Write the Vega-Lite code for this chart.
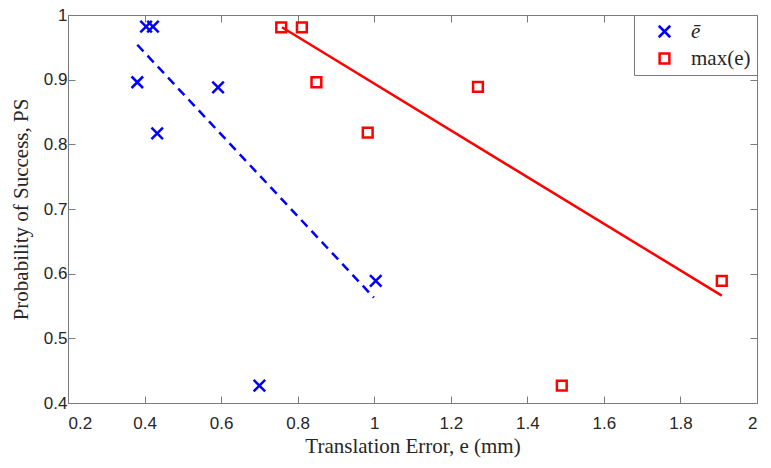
{
  "$schema": "https://vega.github.io/schema/vega-lite/v6.json",
  "width": 689,
  "height": 388,
  "autosize": "none",
  "padding": {"left": 68, "top": 15, "right": 14, "bottom": 65},
  "background": "white",
  "config": {
    "view": {"stroke": null},
    "axis": {
      "grid": false,
      "domainColor": "#7a7a7a",
      "tickColor": "#7a7a7a",
      "domainWidth": 1,
      "tickWidth": 1,
      "tickSize": -7,
      "labelColor": "#262626",
      "labelFont": "Liberation Sans",
      "labelFontSize": 17,
      "titleFont": "Liberation Serif",
      "titleFontSize": 21,
      "titleFontWeight": "normal",
      "titleColor": "#262626"
    }
  },
  "datasets": {
    "pts": [
      {"series": "ē", "e": 0.404, "ps": 0.982},
      {"series": "ē", "e": 0.422, "ps": 0.982},
      {"series": "ē", "e": 0.381, "ps": 0.896},
      {"series": "ē", "e": 0.433, "ps": 0.817},
      {"series": "ē", "e": 0.592, "ps": 0.888},
      {"series": "ē", "e": 0.700, "ps": 0.427},
      {"series": "ē", "e": 1.004, "ps": 0.589},
      {"series": "max(e)", "e": 0.757, "ps": 0.981},
      {"series": "max(e)", "e": 0.811, "ps": 0.981},
      {"series": "max(e)", "e": 0.849, "ps": 0.896},
      {"series": "max(e)", "e": 0.983, "ps": 0.818},
      {"series": "max(e)", "e": 1.271, "ps": 0.889},
      {"series": "max(e)", "e": 1.490, "ps": 0.427},
      {"series": "max(e)", "e": 1.908, "ps": 0.589}
    ],
    "fits": [
      {"series": "ē", "e": 0.381, "ps": 0.954},
      {"series": "ē", "e": 0.999, "ps": 0.563},
      {"series": "max(e)", "e": 0.759, "ps": 0.981},
      {"series": "max(e)", "e": 1.908, "ps": 0.566}
    ]
  },
  "layer": [
    {
      "data": {"name": "fits"},
      "transform": [{"filter": "datum.series == 'ē'"}],
      "mark": {"type": "line", "color": "#0000ff", "strokeWidth": 2.5, "strokeDash": [9, 6]},
      "encoding": {
        "x": {"field": "e", "type": "quantitative", "scale": {"domain": [0.2, 2]}, "axis": null},
        "y": {"field": "ps", "type": "quantitative", "scale": {"domain": [0.4, 1]}, "axis": null}
      }
    },
    {
      "data": {"name": "fits"},
      "transform": [{"filter": "datum.series == 'max(e)'"}],
      "mark": {"type": "line", "color": "#ff0000", "strokeWidth": 2.5},
      "encoding": {
        "x": {"field": "e", "type": "quantitative", "scale": {"domain": [0.2, 2]}, "axis": null},
        "y": {"field": "ps", "type": "quantitative", "scale": {"domain": [0.4, 1]}, "axis": null}
      }
    },
    {
      "data": {"name": "pts"},
      "mark": {"type": "point", "filled": false, "strokeWidth": 2.5, "size": 132, "opacity": 1},
      "encoding": {
        "x": {
          "field": "e", "type": "quantitative",
          "scale": {"domain": [0.2, 2]},
          "axis": {"orient": "bottom", "values": [0.2, 0.4, 0.6, 0.8, 1, 1.2, 1.4, 1.6, 1.8, 2], "format": "~g", "labelPadding": 19, "title": "Translation Error, e (mm)", "titlePadding": 4}
        },
        "y": {
          "field": "ps", "type": "quantitative",
          "scale": {"domain": [0.4, 1]},
          "axis": {"orient": "left", "values": [0.4, 0.5, 0.6, 0.7, 0.8, 0.9, 1], "format": "~g", "labelPadding": 8, "title": "Probability of Success, PS", "titlePadding": 12}
        },
        "color": {
          "field": "series", "type": "nominal",
          "scale": {"domain": ["ē", "max(e)"], "range": ["#0000ff", "#ff0000"]},
          "legend": {
            "title": null,
            "orient": "top-right",
            "offset": 0,
            "strokeColor": "#7a7a7a",
            "fillColor": "white",
            "padding": 6,
            "symbolOffset": 14,
            "symbolSize": 132,
            "symbolStrokeWidth": 2.5,
            "labelFont": "Liberation Serif",
            "labelFontSize": 21,
            "labelColor": "#262626",
            "labelOffset": 16,
            "rowPadding": 4,
            "labelFontStyle": {"expr": "datum.label == 'ē' ? 'italic' : 'normal'"}
          }
        },
        "shape": {
          "field": "series", "type": "nominal",
          "scale": {"domain": ["ē", "max(e)"], "range": ["M-1,-1L1,1M1,-1L-1,1", "M-0.85,-0.85H0.85V0.85H-0.85Z"]}
        }
      }
    },
    {
      "data": {"name": "pts"},
      "mark": {"type": "point", "opacity": 0},
      "encoding": {
        "x": {
          "field": "e", "type": "quantitative",
          "scale": {"domain": [0.2, 2]},
          "axis": {"orient": "top", "values": [0.2, 0.4, 0.6, 0.8, 1, 1.2, 1.4, 1.6, 1.8, 2], "labels": false, "title": null}
        },
        "y": {
          "field": "ps", "type": "quantitative",
          "scale": {"domain": [0.4, 1]},
          "axis": {"orient": "right", "values": [0.4, 0.5, 0.6, 0.7, 0.8, 0.9, 1], "labels": false, "title": null}
        }
      }
    }
  ],
  "resolve": {"scale": {"x": "independent", "y": "independent"}, "axis": {"x": "independent", "y": "independent"}}
}
